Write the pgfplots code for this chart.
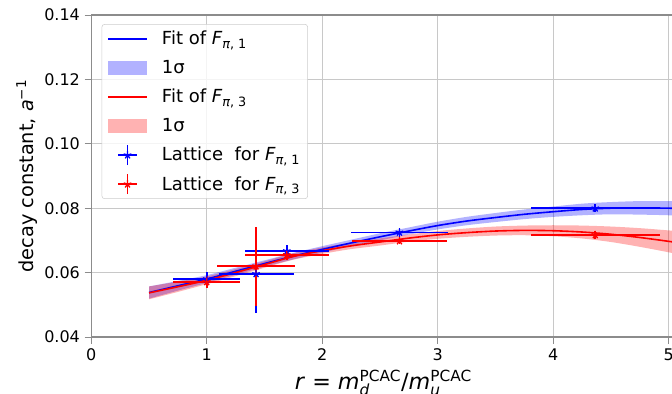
\documentclass[border=0pt]{standalone}
\usepackage{fontspec}
\setmainfont{DejaVu Sans}
\usepackage{pgfplots}
\usepackage{pgfplotstable}
\usepgfplotslibrary{fillbetween}
\pgfplotsset{compat=1.18}

\newcommand{\Fpi}[1]{\textit{F}\raisebox{-0.35ex}{\fontsize{9.6}{10}\selectfont\textit{π}, #1}}
\definecolor{spinegray}{HTML}{8C8C8C}
\definecolor{gridgray}{HTML}{C8C8C8}
\newcommand{\legbox}{\path[draw=none,fill=none] (0pt,-10.9pt) rectangle (38.4pt,10.9pt);}
\newcommand{\scr}[1]{\mbox{\fontsize{11.5}{12}\selectfont #1}}

\pgfplotstableread{
x c e
0.50 0.0538 0.0019
0.75 0.0559 0.0015
1.00 0.0580 0.0012
1.25 0.0604 0.0011
1.50 0.0628 0.0010
1.75 0.0651 0.0010
2.00 0.0672 0.0010
2.25 0.0692 0.0010
2.50 0.0711 0.0011
2.75 0.0729 0.0011
3.00 0.0746 0.0012
3.25 0.0760 0.0013
3.50 0.0771 0.0014
3.75 0.0781 0.0015
4.00 0.0789 0.0016
4.25 0.0796 0.0018
4.50 0.0800 0.0019
4.75 0.0801 0.0021
5.00 0.0800 0.0022
5.25 0.0798 0.0024
}\bluefit

\pgfplotstableread{
x c e
0.50 0.0537 0.0020
0.75 0.0556 0.0016
1.00 0.0576 0.0012
1.25 0.0600 0.0011
1.50 0.0625 0.0010
1.75 0.0650 0.0010
2.00 0.0668 0.0010
2.25 0.0683 0.0010
2.50 0.0695 0.0011
2.75 0.0707 0.0011
3.00 0.0717 0.0012
3.25 0.0724 0.0013
3.50 0.0729 0.0014
3.75 0.0731 0.0015
4.00 0.0730 0.0017
4.25 0.0726 0.0020
4.50 0.0719 0.0024
4.75 0.0709 0.0029
5.00 0.0697 0.0034
5.25 0.0684 0.0040
}\redfit

\pgfplotstableread{
x y ex ey
1.000 0.0580 0.29 0.0022
1.427 0.0596 0.325 0.0122
1.693 0.0667 0.365 0.0020
2.669 0.0725 0.42 0.0013
4.365 0.0800 0.56 0.0012
}\bluedata

\pgfplotstableread{
x y ex ey
1.000 0.0571 0.29 0.0018
1.427 0.0620 0.34 0.0123
1.693 0.0655 0.365 0.0015
2.669 0.0698 0.41 0.0010
4.365 0.0717 0.56 0.0012
}\reddata

\begin{document}
\begin{tikzpicture}
\begin{axis}[
  scale only axis,
  width=438.2pt, height=241.5pt,
  xmin=0, xmax=5.06, ymin=0.04, ymax=0.14,
  xtick={0,1,2,3,4,5},
  ytick={0.04,0.06,0.08,0.10,0.12,0.14},
  yticklabel style={/pgf/number format/.cd, fixed, fixed zerofill, precision=2},
  /pgf/number format/assume math mode=true,
  tick label style={font=\fontsize{12}{14}\selectfont},
  xtick pos=bottom, ytick pos=left,
  tick align=outside, major tick length=5pt,
  tick style={draw=spinegray, line width=0.7pt},
  axis line style={draw=spinegray, line width=0.9pt},
  grid=major, grid style={draw=gridgray, line width=0.6pt},
  ylabel={decay constant, \textit{a}\textsuperscript{−1}},
  every axis y label/.style={at={(axis description cs:-0.1107,0.5)}, rotate=90, anchor=center,
    font=\fontsize{14.5}{17}\selectfont},
  xlabel={\textit{r} = $\mbox{\textit{m}}^{\scr{PCAC}}_{\scr{\itshape d}}$/$\mbox{\textit{m}}^{\scr{PCAC}}_{\scr{\itshape u}}$},
  every axis x label/.style={at={(axis description cs:0.5,-0.1646)}, anchor=base,
    font=\fontsize{16.7}{19}\selectfont},
  legend cell align=left,
  legend style={at={(axis description cs:0,1)}, anchor=north west, xshift=7.8pt, yshift=-6.8pt,
    draw=black!20, fill=white, fill opacity=0.8, text opacity=1, rounded corners=2pt,
    font=\fontsize{13.5}{16}\selectfont, row sep=0pt, inner xsep=4pt, inner ysep=0pt},
]
\addplot[blue, line width=1.2pt, smooth,
  legend image code/.code={\legbox\draw[blue, line width=1.2pt, sharp corners] (0pt,0pt)--(29pt,0pt);}]
  table[x=x, y=c] {\bluefit};
\addlegendentry{Fit of \Fpi{1}}
\addplot[name path=bu, draw=none, smooth, forget plot] table[x=x, y expr=\thisrow{c}+\thisrow{e}] {\bluefit};
\addplot[name path=bl, draw=none, smooth, forget plot] table[x=x, y expr=\thisrow{c}-\thisrow{e}] {\bluefit};
\addplot[fill=blue, fill opacity=0.3, draw=none,
  legend image code/.code={\legbox\fill[blue, fill opacity=0.3, sharp corners] (0pt,-5pt) rectangle (29pt,5pt);}]
  fill between[of=bu and bl];
\addlegendentry{1σ}

\addplot[red, line width=1.2pt, smooth,
  legend image code/.code={\legbox\draw[red, line width=1.2pt, sharp corners] (0pt,0pt)--(29pt,0pt);}]
  table[x=x, y=c] {\redfit};
\addlegendentry{Fit of \Fpi{3}}
\addplot[name path=ru, draw=none, smooth, forget plot] table[x=x, y expr=\thisrow{c}+\thisrow{e}] {\redfit};
\addplot[name path=rl, draw=none, smooth, forget plot] table[x=x, y expr=\thisrow{c}-\thisrow{e}] {\redfit};
\addplot[fill=red, fill opacity=0.3, draw=none,
  legend image code/.code={\legbox\fill[red, fill opacity=0.3, sharp corners] (0pt,-5pt) rectangle (29pt,5pt);}]
  fill between[of=ru and rl];
\addlegendentry{1σ}

\addplot[blue, only marks, mark=star, mark size=3pt, mark options={line width=1pt},
  legend image code/.code={\legbox
    \draw[blue, line width=1.2pt, sharp corners] (7.7pt,0pt)--(21.5pt,0pt) (14.6pt,-7.5pt)--(14.6pt,7.5pt);
    \draw[blue, line width=1pt] plot[mark=star, mark size=3pt] coordinates {(14.6pt,0pt)};},
  error bars/.cd, x dir=both, y dir=both, x explicit, y explicit,
  error mark=none, error bar style={line width=1.2pt, blue}]
  table[x=x, y=y, x error=ex, y error=ey] {\bluedata};
\addlegendentry{Lattice\ \ for \Fpi{1}}
\addplot[red, only marks, mark=star, mark size=3pt, mark options={line width=1pt},
  legend image code/.code={\legbox
    \draw[red, line width=1.2pt, sharp corners] (7.7pt,0pt)--(21.5pt,0pt) (14.6pt,-7.5pt)--(14.6pt,7.5pt);
    \draw[red, line width=1pt] plot[mark=star, mark size=3pt] coordinates {(14.6pt,0pt)};},
  error bars/.cd, x dir=both, y dir=both, x explicit, y explicit,
  error mark=none, error bar style={line width=1.2pt, red}]
  table[x=x, y=y, x error=ex, y error=ey] {\reddata};
\addlegendentry{Lattice\ \ for \Fpi{3}}

\coordinate (bbl) at (axis cs:-0.7907,0.0223);
\coordinate (btr) at (axis cs:5.0295,0.14466);
\end{axis}
\pgfresetboundingbox
\useasboundingbox (bbl) rectangle (btr);
\end{tikzpicture}
\end{document}
